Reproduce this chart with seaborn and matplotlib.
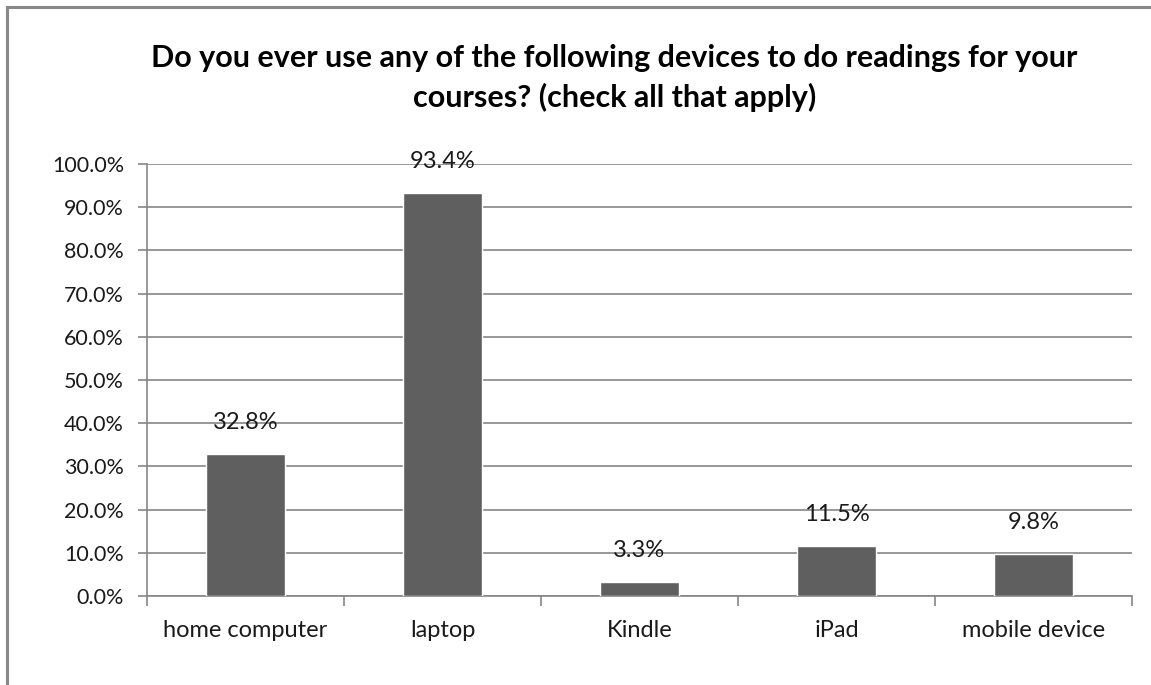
import matplotlib
matplotlib.use("Agg")
import matplotlib.pyplot as plt
import matplotlib.patches as mpatches
from matplotlib.ticker import FuncFormatter, MultipleLocator
import seaborn as sns
import pandas as pd

devices = ["home computer", "laptop", "Kindle", "iPad", "mobile device"]
share = [32.8, 93.4, 3.3, 11.5, 9.8]
title = ("Do you ever use any of the following devices to do readings for your\n"
         "courses? (check all that apply)")

sns.set_theme(style="white")
plt.rcParams["font.family"] = ["Lato", "DejaVu Sans"]

df = pd.DataFrame({"device": devices, "share": share})

W, H = 1151, 685
fig = plt.figure(figsize=(W / 100, H / 100), dpi=100)
ax = fig.add_axes([147 / W, 1 - 596 / H, (1132 - 147) / W, (596 - 164) / H])

grid_c = "#868686"
text_c = "#1a1a1a"
fs = 17

sns.barplot(data=df, x="device", y="share", color="#5f5f5f", width=0.4,
            saturation=1, ax=ax, zorder=3)

ax.set_ylim(0, 100)
ax.set_xlim(-0.5, len(devices) - 0.5)
ax.yaxis.set_major_locator(MultipleLocator(10))
ax.yaxis.set_major_formatter(FuncFormatter(lambda v, _: f"{v:.1f}%"))
ax.grid(axis="y", color=grid_c, linewidth=1.2, zorder=0)
ax.set_axisbelow(True)
ax.set_xlabel("")
ax.set_ylabel("")

for side in ("top", "right"):
    ax.spines[side].set_visible(False)
for side in ("left", "bottom"):
    ax.spines[side].set_color(grid_c)
    ax.spines[side].set_linewidth(1.2)

ax.tick_params(axis="y", which="major", left=True, length=6.5, width=1.2,
               color=grid_c, labelsize=15.5, labelcolor=text_c, pad=10)
ax.set_xticks(range(len(devices)))
ax.set_xticklabels(devices)
ax.tick_params(axis="x", which="major", bottom=False, length=0, labelsize=fs,
               labelcolor=text_c, pad=17)
# category boundary ticks on the x axis
ax.set_xticks([i - 0.5 for i in range(len(devices) + 1)], minor=True)
ax.tick_params(axis="x", which="minor", bottom=True, length=7, width=1.2,
               color=grid_c)

for i, v in enumerate(share):
    ax.annotate(f"{v:.1f}%", (i, v), xytext=(0, 15), textcoords="offset points",
                ha="center", va="bottom", fontsize=fs, color=text_c)

fig.text((147 + 1132) / 2 / W - 0.022, 1 - 78 / H, title,
         ha="center", va="center", fontsize=22, fontweight="bold",
         color="#000000", linespacing=1.42)

# outer chart frame
fig.add_artist(mpatches.Rectangle((7 / W, -0.1), 1.2, 1 - 6.5 / H + 0.1,
                                  transform=fig.transFigure, fill=False,
                                  edgecolor="#888888", linewidth=2.2))

fig.savefig("out.png", dpi=100, facecolor="white")
